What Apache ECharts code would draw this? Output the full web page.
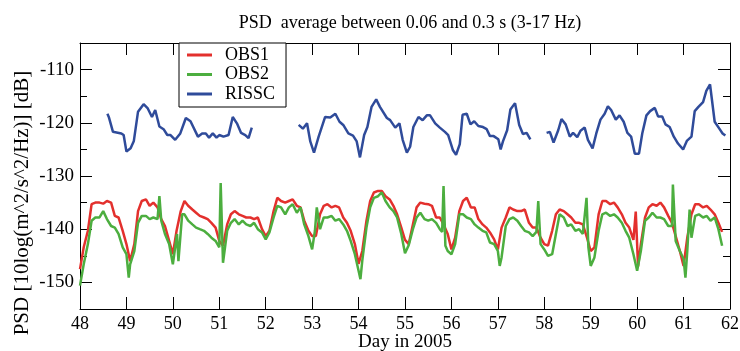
<!DOCTYPE html>
<html><head><meta charset="utf-8">
<script src="https://cdn.jsdelivr.net/npm/echarts@6/dist/echarts.min.js"></script>
<style>html,body{margin:0;padding:0;background:#fff}#c{width:740px;height:351px}</style>
</head><body><div id="c"></div>
<script>
const seriesNames = ['OBS1', 'OBS2', 'RISSC'];

const obs1Days = [48.00,48.08,48.17,48.25,48.33,48.42,48.50,48.58,48.67,48.75,48.83,48.92,49.00,49.08,49.17,49.25,49.33,49.42,49.50,49.58,49.67,49.75,49.83,49.92,50.00,50.08,50.17,50.25,50.33,50.42,50.50,50.58,50.67,50.75,50.83,50.92,51.00,51.08,51.17,51.25,51.33,51.42,51.50,51.58,51.67,51.75,51.83,51.92,52.00,52.08,52.17,52.25,52.33,52.42,52.50,52.58,52.67,52.75,52.83,52.92,53.00,53.08,53.17,53.25,53.33,53.42,53.50,53.58,53.67,53.75,53.83,53.92,54.00,54.08,54.17,54.25,54.33,54.42,54.50,54.58,54.67,54.75,54.83,54.92,55.00,55.08,55.17,55.25,55.33,55.42,55.50,55.58,55.67,55.75,55.83,55.92,56.00,56.08,56.17,56.25,56.33,56.42,56.50,56.58,56.67,56.75,56.83,56.92,57.00,57.08,57.17,57.25,57.33,57.42,57.50,57.58,57.67,57.75,57.83,57.92,58.00,58.08,58.17,58.25,58.33,58.42,58.50,58.58,58.67,58.75,58.83,58.92,59.00,59.08,59.17,59.25,59.33,59.42,59.50,59.58,59.67,59.75,59.83,59.92,59.97,60.02,60.08,60.17,60.25,60.33,60.42,60.50,60.58,60.67,60.75,60.83,60.92,61.00,61.08,61.17,61.25,61.33,61.42,61.50,61.58,61.67,61.75,61.83];
const obs1Vals = [-147.5,-143.4,-140.3,-135.3,-135.0,-135.0,-135.2,-134.7,-135.0,-137.5,-137.8,-140.3,-142.8,-146.0,-142.8,-136.6,-134.7,-134.4,-135.6,-135.0,-135.9,-138.1,-139.4,-142.2,-144.7,-140.3,-136.6,-134.7,-135.6,-136.3,-136.9,-137.5,-137.8,-138.1,-138.8,-139.7,-142.2,-143.1,-139.1,-137.2,-136.6,-137.2,-137.5,-137.8,-137.8,-138.1,-137.8,-140.0,-141.3,-140.3,-136.6,-134.1,-134.7,-135.0,-134.7,-134.4,-135.6,-135.9,-138.4,-140.3,-141.3,-141.3,-137.2,-135.6,-135.3,-135.9,-135.6,-135.9,-137.8,-138.8,-140.3,-142.8,-146.5,-144.1,-138.4,-134.7,-133.1,-132.8,-132.8,-133.8,-134.4,-135.6,-137.2,-139.7,-142.0,-142.8,-139.1,-135.9,-135.0,-135.2,-135.3,-135.6,-137.8,-137.8,-139.1,-140.9,-143.8,-141.6,-136.6,-134.7,-134.1,-135.9,-135.9,-138.1,-139.1,-139.7,-140.6,-141.9,-143.8,-139.7,-137.8,-135.9,-136.3,-136.6,-136.6,-136.3,-138.8,-139.7,-139.7,-141.6,-142.8,-143.1,-140.3,-137.2,-136.3,-136.6,-137.2,-137.8,-138.8,-138.8,-139.1,-141.6,-144.1,-143.4,-137.2,-134.7,-134.7,-135.3,-135.0,-135.9,-137.2,-138.8,-139.7,-142.0,-136.7,-147.0,-142.8,-137.8,-135.9,-135.3,-135.6,-135.0,-135.9,-137.5,-138.8,-141.3,-144.1,-146.9,-141.6,-137.2,-135.3,-135.3,-135.9,-135.6,-136.3,-137.2,-138.8,-140.5];

const obs2Days = [48.00,48.08,48.17,48.25,48.33,48.42,48.50,48.58,48.67,48.75,48.83,48.92,49.00,49.05,49.08,49.17,49.25,49.33,49.42,49.50,49.58,49.67,49.71,49.75,49.83,49.92,50.00,50.09,50.12,50.20,50.25,50.33,50.42,50.50,50.58,50.67,50.75,50.83,50.92,51.00,51.03,51.08,51.17,51.25,51.33,51.42,51.50,51.58,51.67,51.75,51.83,51.92,52.00,52.08,52.17,52.25,52.33,52.42,52.50,52.58,52.67,52.75,52.83,52.92,53.00,53.06,53.10,53.17,53.25,53.33,53.42,53.50,53.58,53.67,53.75,53.83,53.92,54.00,54.04,54.08,54.17,54.25,54.33,54.42,54.50,54.58,54.67,54.75,54.83,54.92,55.00,55.08,55.17,55.25,55.33,55.42,55.50,55.58,55.67,55.75,55.80,55.83,55.87,55.92,56.00,56.08,56.17,56.25,56.33,56.42,56.50,56.58,56.67,56.75,56.83,56.92,57.00,57.04,57.08,57.17,57.25,57.33,57.42,57.50,57.58,57.67,57.75,57.83,57.87,57.92,58.00,58.08,58.17,58.25,58.33,58.42,58.50,58.58,58.67,58.75,58.83,58.91,58.95,59.00,59.08,59.17,59.25,59.33,59.42,59.50,59.58,59.67,59.75,59.83,59.92,60.00,60.08,60.17,60.25,60.33,60.42,60.50,60.58,60.67,60.75,60.77,60.83,60.92,61.00,61.04,61.08,61.13,61.17,61.25,61.33,61.42,61.50,61.58,61.67,61.75,61.83];
const obs2Vals = [-150.6,-146.6,-142.8,-138.4,-137.8,-137.8,-136.6,-138.1,-139.4,-139.7,-140.9,-143.4,-144.7,-149.1,-146.6,-144.1,-138.8,-137.5,-137.5,-138.1,-137.8,-138.1,-133.8,-138.4,-140.9,-142.8,-146.6,-140.9,-146.0,-137.2,-137.2,-138.4,-139.1,-139.7,-140.0,-140.3,-140.9,-141.6,-142.2,-143.4,-131.3,-146.3,-140.3,-138.8,-138.1,-139.1,-138.4,-139.1,-139.4,-138.8,-140.0,-140.6,-141.9,-140.6,-137.8,-135.6,-135.9,-137.2,-135.9,-135.3,-136.9,-135.9,-139.1,-141.3,-143.8,-140.3,-135.9,-140.0,-137.8,-137.8,-137.5,-138.4,-138.1,-139.1,-140.3,-142.2,-144.7,-147.8,-149.4,-145.9,-139.7,-135.9,-134.1,-133.8,-133.1,-134.7,-135.9,-136.6,-137.8,-140.9,-144.5,-143.0,-140.0,-137.8,-136.9,-138.1,-138.4,-138.1,-138.8,-140.0,-140.5,-131.9,-143.1,-144.1,-144.7,-142.8,-137.2,-137.2,-137.8,-138.1,-139.1,-139.7,-140.3,-140.6,-142.5,-142.8,-144.1,-146.9,-145.3,-139.4,-138.1,-137.8,-138.4,-139.4,-140.3,-140.6,-141.3,-140.5,-134.7,-142.8,-143.8,-145.0,-144.7,-140.9,-137.2,-137.8,-139.4,-139.1,-140.3,-140.0,-140.9,-134.1,-143.4,-146.9,-145.3,-140.3,-137.2,-136.9,-137.5,-137.2,-137.8,-138.8,-140.3,-141.6,-144.7,-147.8,-144.1,-138.4,-137.8,-136.9,-137.8,-137.8,-138.1,-139.4,-139.4,-131.6,-142.2,-144.1,-145.6,-149.1,-144.1,-136.3,-141.6,-137.5,-137.2,-137.8,-137.5,-138.4,-137.8,-140.0,-143.1];

const rissDays = [48.59,48.62,48.71,48.89,48.94,49.00,49.09,49.16,49.25,49.37,49.46,49.55,49.62,49.71,49.80,49.88,49.95,50.05,50.16,50.28,50.38,50.54,50.63,50.71,50.78,50.86,50.94,51.00,51.09,51.20,51.29,51.38,51.47,51.56,51.63,51.70,52.20,52.71,52.80,52.89,52.96,53.04,53.14,53.28,53.39,53.50,53.59,53.67,53.78,53.88,53.96,54.03,54.12,54.19,54.28,54.38,54.46,54.61,54.68,54.79,54.88,54.95,55.04,55.11,55.18,55.29,55.38,55.47,55.54,55.65,55.75,55.86,55.93,56.03,56.10,56.18,56.24,56.33,56.41,56.49,56.58,56.68,56.76,56.83,56.91,57.01,57.06,57.11,57.20,57.27,57.37,57.46,57.54,57.62,57.70,57.90,58.05,58.12,58.20,58.30,58.37,58.46,58.55,58.62,58.71,58.78,58.87,58.94,59.04,59.12,59.21,59.30,59.37,59.44,59.54,59.62,59.71,59.79,59.87,59.95,60.04,60.11,60.20,60.28,60.38,60.45,60.54,60.61,60.70,60.79,60.88,60.99,61.07,61.17,61.24,61.32,61.42,61.49,61.57,61.67,61.77,61.84,61.90];
const rissVals = [-118.3,-118.9,-121.7,-122.0,-122.3,-125.4,-124.8,-123.4,-117.9,-116.5,-117.3,-118.9,-117.6,-120.7,-121.2,-122.3,-122.3,-123.2,-122.0,-119.1,-119.7,-122.6,-122.0,-122.0,-122.8,-122.0,-122.8,-122.3,-122.6,-122.3,-118.9,-120.1,-121.9,-122.3,-122.9,-120.9,null,-120.4,-121.1,-120.1,-123.5,-125.6,-122.6,-118.9,-119.0,-118.3,-119.8,-120.4,-122.0,-122.4,-123.5,-126.5,-122.3,-120.8,-117.0,-115.6,-117.0,-119.1,-119.5,-120.9,-120.1,-123.2,-125.6,-124.5,-120.8,-118.9,-119.5,-118.6,-118.6,-120.1,-120.9,-121.7,-122.3,-125.1,-126.0,-124.0,-118.5,-118.3,-120.3,-119.7,-120.6,-120.8,-121.2,-122.5,-122.5,-123.1,-125.0,-123.5,-121.4,-117.5,-116.3,-120.4,-122.1,-121.9,-123.1,null,-121.9,-121.7,-123.7,-121.4,-119.3,-120.3,-122.6,-121.9,-122.7,-121.5,-120.9,-123.2,-124.8,-122.0,-119.4,-118.3,-116.9,-117.6,-119.4,-118.6,-119.8,-121.9,-122.6,-125.8,-125.8,-122.0,-118.6,-117.8,-117.2,-118.8,-118.8,-120.3,-120.8,-122.6,-123.9,-125.0,-123.4,-122.6,-117.8,-117.0,-116.1,-114.0,-112.8,-119.8,-121.1,-122.0,-122.4];

const FONT = 'Liberation Serif';
const pairs = (d, v) => d.map((x, i) => [x, v[i]]);

const axisCommon = {
  axisLine: { show: true, lineStyle: { color: '#000', width: 1 } },
  splitLine: { show: false },
};
const xBase = Object.assign({ type: 'value', min: 48, max: 62, interval: 1 }, axisCommon, {
  axisTick: { show: true, inside: true, length: 12, lineStyle: { color: '#000' } }
});
const yBase = Object.assign({ type: 'value', min: -155, max: -105 }, axisCommon, {
  axisTick: { show: true, inside: true, length: 12, lineStyle: { color: '#000' } },
  minorTick: { show: true, splitNumber: 2, length: 7, lineStyle: { color: '#000' } }
});

const chart = echarts.init(document.getElementById('c'), null, { renderer: 'canvas' });
chart.setOption({
  animation: false,
  backgroundColor: '#fff',
  color: ['#e3302d', '#4cae3f', '#2f4b9a'],
  title: {
    text: 'PSD  average between 0.06 and 0.3 s (3-17 Hz)',
    left: 405, top: 9, textAlign: 'center',
    textStyle: { fontFamily: FONT, fontSize: 18, fontWeight: 'normal', color: '#000' }
  },
  grid: { left: 80, right: 10, top: 43, bottom: 42, containLabel: false, outerBoundsMode: 'none' },
  legend: {
    data: seriesNames, orient: 'vertical', left: 179, top: 43,
    icon: 'rect', itemWidth: 25, itemHeight: 3, itemGap: 1.5,
    padding: [3, 11, 4, 8], borderColor: '#000', borderWidth: 1, backgroundColor: '#fff',
    textStyle: { fontFamily: FONT, fontSize: 18, color: '#000', lineHeight: 17, padding: [0, 0, 0, 8] }
  },
  xAxis: [
    Object.assign({}, xBase, {
      position: 'bottom', name: 'Day in 2005', nameLocation: 'middle', nameGap: 24, nameMoveOverlap: false,
      nameTextStyle: { fontFamily: FONT, fontSize: 19, color: '#000' },
      axisLabel: { margin: 6, fontFamily: FONT, fontSize: 18, color: '#000' }
    }),
    Object.assign({}, xBase, { position: 'top', axisLabel: { show: false } })
  ],
  yAxis: [
    Object.assign({}, yBase, {
      position: 'left', name: 'PSD [10log(m^2/s^2/Hz)] [dB]', nameLocation: 'middle', nameGap: 47, nameMoveOverlap: false,
      nameTextStyle: { fontFamily: FONT, fontSize: 21, color: '#000', padding: [0, 54, 0, 0] },
      axisLabel: { margin: 6, fontFamily: FONT, fontSize: 19, color: '#000', showMinLabel: false, showMaxLabel: false }
    }),
    Object.assign({}, yBase, { position: 'right', axisLabel: { show: false } })
  ],
  series: [
    { name: 'OBS1', type: 'line', showSymbol: false, data: pairs(obs1Days, obs1Vals), lineStyle: { width: 2.5 } },
    { name: 'OBS2', type: 'line', showSymbol: false, data: pairs(obs2Days, obs2Vals), lineStyle: { width: 2.5 } },
    { name: 'RISSC', type: 'line', showSymbol: false, connectNulls: false, data: pairs(rissDays, rissVals), lineStyle: { width: 2.5 } }
  ]
});
</script></body></html>
